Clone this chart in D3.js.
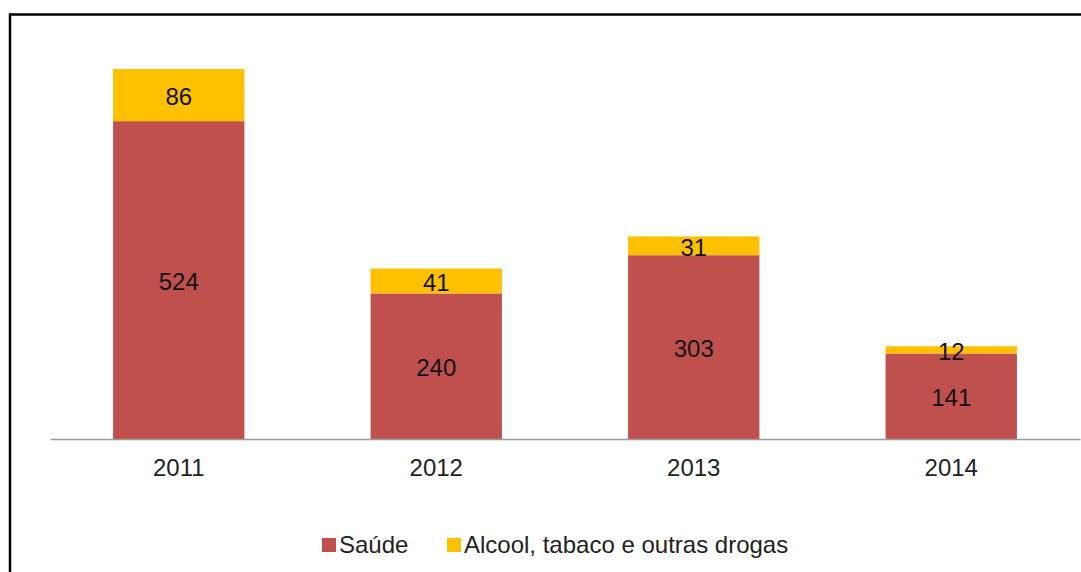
<!DOCTYPE html>
<html>
<head>
<meta charset="utf-8">
<script src="https://cdn.jsdelivr.net/npm/d3@7"></script>
<style>
  html, body { margin: 0; padding: 0; background: #fff; }
  svg { display: block; font-family: "Liberation Sans", Arial, sans-serif; }
</style>
</head>
<body>
<svg id="chart" width="1081" height="572"></svg>
<script>
// Years on the horizontal axis
const years = ["2011", "2012", "2013", "2014"];
// Stacked series: bottom segment and top segment
const saude = [524, 240, 303, 141];
const alcool = [86, 41, 31, 12];
const seriesNames = ["Saúde", "Alcool, tabaco e outras drogas"];
const seriesColors = ["#C0504D", "#FFC000"];

const svg = d3.select("#chart");
const W = 1081, H = 572;
const baseY = 439;
const fontSize = 24;

const rows = years.map((y, i) => ({ year: y, saude: saude[i], alcool: alcool[i] }));
const stack = d3.stack().keys(["saude", "alcool"]);
const layers = stack(rows);

const x = d3.scaleBand()
  .domain(years)
  .range([50, 1080])
  .paddingInner(0.49)
  .paddingOuter(0.245);

const y = d3.scaleLinear()
  .domain([0, 610])
  .range([baseY, 69]);

// Frame: top and left border lines
svg.append("line")
  .attr("x1", 10).attr("x2", W).attr("y1", 14.5).attr("y2", 14.5)
  .attr("stroke", "#000").attr("stroke-width", 2.5);
svg.append("line")
  .attr("x1", 10).attr("x2", 10).attr("y1", 13.25).attr("y2", H)
  .attr("stroke", "#000").attr("stroke-width", 2.5);

// Bars
const g = svg.append("g");
layers.forEach((layer, li) => {
  g.selectAll(null)
    .data(layer)
    .enter()
    .append("rect")
    .attr("x", d => x(d.data.year))
    .attr("width", x.bandwidth())
    .attr("y", d => y(d[1]))
    .attr("height", d => y(d[0]) - y(d[1]))
    .attr("fill", seriesColors[li]);
});

// Value labels centred in each segment
layers.forEach((layer) => {
  g.selectAll(null)
    .data(layer)
    .enter()
    .append("text")
    .attr("x", d => x(d.data.year) + x.bandwidth() / 2)
    .attr("y", d => (y(d[0]) + y(d[1])) / 2 + 1.5)
    .attr("dy", "0.36em")
    .attr("text-anchor", "middle")
    .attr("font-size", fontSize)
    .attr("fill", "#111")
    .text(d => d[1] - d[0]);
});

// Category axis
const xAxis = d3.axisBottom(x).tickSize(0).tickPadding(20);
const ax = svg.append("g")
  .attr("transform", `translate(0,${baseY})`)
  .call(xAxis);
ax.select(".domain").attr("stroke", "#9a9a9a").attr("stroke-width", 1.5);
ax.selectAll("text")
  .attr("font-size", fontSize)
  .attr("font-family", "Liberation Sans, Arial, sans-serif")
  .attr("fill", "#222");

// Legend
const legendItems = [
  { name: seriesNames[0], color: seriesColors[0], x: 322 },
  { name: seriesNames[1], color: seriesColors[1], x: 447 }
];
const lg = svg.append("g");
legendItems.forEach(it => {
  lg.append("rect")
    .attr("x", it.x).attr("y", 538)
    .attr("width", 14).attr("height", 14)
    .attr("fill", it.color);
  lg.append("text")
    .attr("x", it.x + 17).attr("y", 553)
    .attr("font-size", fontSize)
    .attr("fill", "#222")
    .text(it.name);
});
</script>
</body>
</html>
